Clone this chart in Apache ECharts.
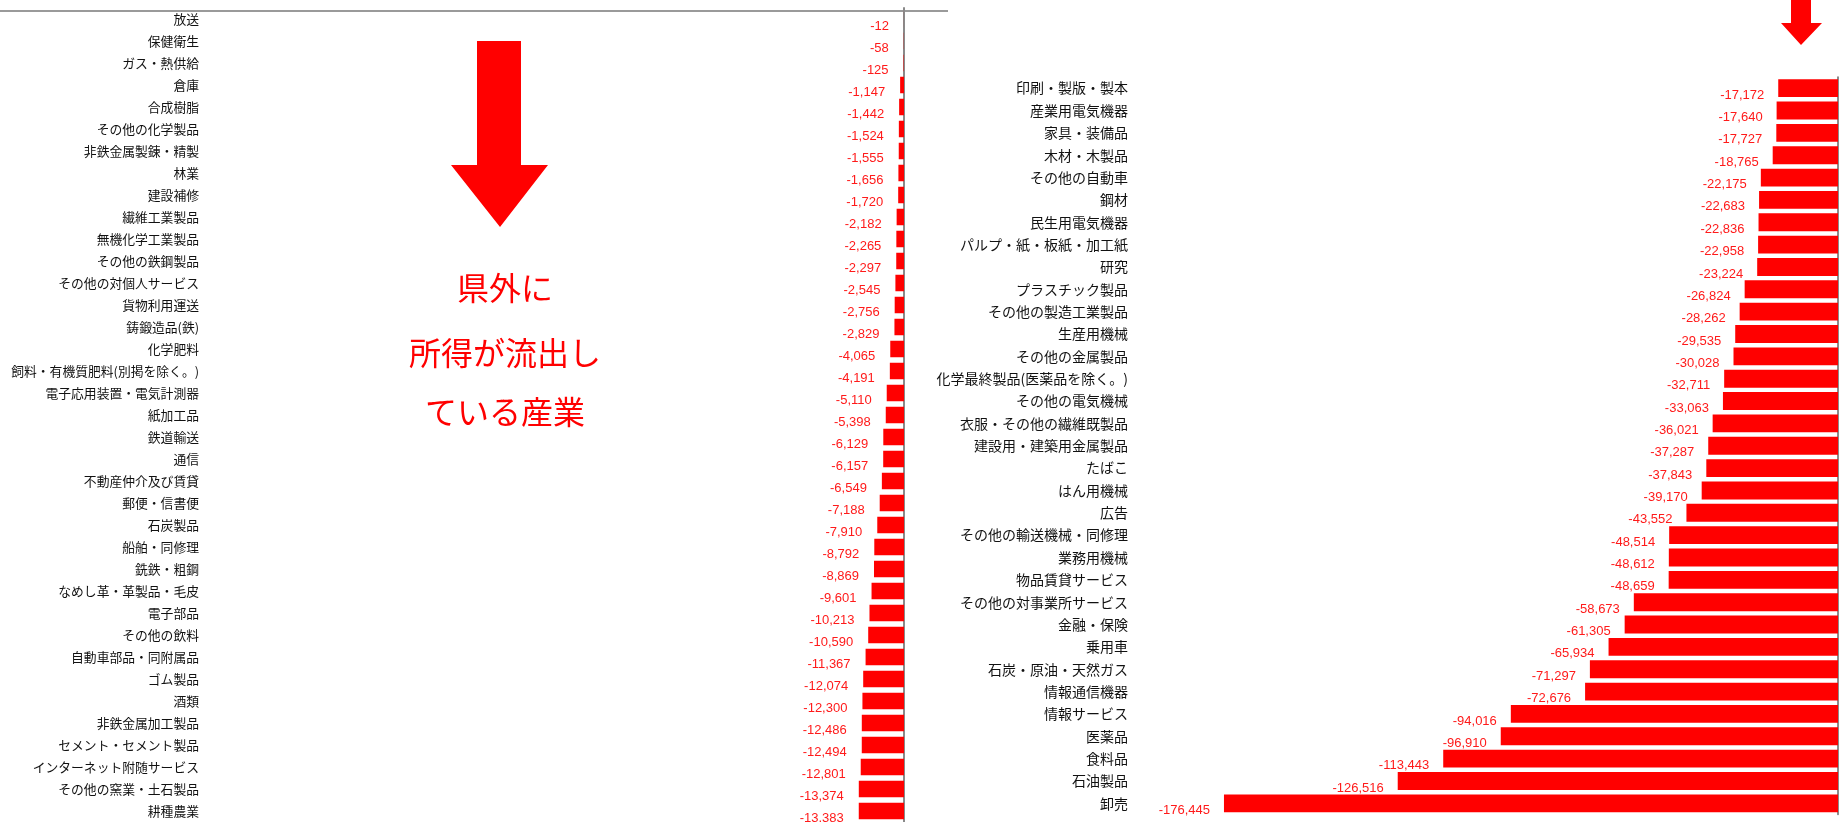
<!DOCTYPE html>
<html>
<head>
<meta charset="utf-8">
<script src="https://cdn.jsdelivr.net/npm/echarts@6/dist/echarts.min.js"></script>
<style>
html,body{margin:0;padding:0;background:#fff;}
#chart{width:1845px;height:822px;}
</style>
</head>
<body>
<div id="chart"></div>
<script>
const leftCategories = ['放送','保健衛生','ガス・熱供給','倉庫','合成樹脂','その他の化学製品','非鉄金属製錬・精製','林業','建設補修','繊維工業製品','無機化学工業製品','その他の鉄鋼製品','その他の対個人サービス','貨物利用運送','鋳鍛造品(鉄)','化学肥料','飼料・有機質肥料(別掲を除く。)','電子応用装置・電気計測器','紙加工品','鉄道輸送','通信','不動産仲介及び賃貸','郵便・信書便','石炭製品','船舶・同修理','銑鉄・粗鋼','なめし革・革製品・毛皮','電子部品','その他の飲料','自動車部品・同附属品','ゴム製品','酒類','非鉄金属加工製品','セメント・セメント製品','インターネット附随サービス','その他の窯業・土石製品','耕種農業'];
const leftValues = [-12,-58,-125,-1147,-1442,-1524,-1555,-1656,-1720,-2182,-2265,-2297,-2545,-2756,-2829,-4065,-4191,-5110,-5398,-6129,-6157,-6549,-7188,-7910,-8792,-8869,-9601,-10213,-10590,-11367,-12074,-12300,-12486,-12494,-12801,-13374,-13383];

const rightCategories = ['印刷・製版・製本','産業用電気機器','家具・装備品','木材・木製品','その他の自動車','鋼材','民生用電気機器','パルプ・紙・板紙・加工紙','研究','プラスチック製品','その他の製造工業製品','生産用機械','その他の金属製品','化学最終製品(医薬品を除く。)','その他の電気機械','衣服・その他の繊維既製品','建設用・建築用金属製品','たばこ','はん用機械','広告','その他の輸送機械・同修理','業務用機械','物品賃貸サービス','その他の対事業所サービス','金融・保険','乗用車','石炭・原油・天然ガス','情報通信機器','情報サービス','医薬品','食料品','石油製品','卸売'];
const rightValues = [-17172,-17640,-17727,-18765,-22175,-22683,-22836,-22958,-23224,-26824,-28262,-29535,-30028,-32711,-33063,-36021,-37287,-37843,-39170,-43552,-48514,-48612,-48659,-58673,-61305,-65934,-71297,-72676,-94016,-96910,-113443,-126516,-176445];

const annotationLines = ['県外に','所得が流出し','ている産業'];

const chart = echarts.init(document.getElementById('chart'), null, {renderer:'canvas'});
const catFont = "'Noto Sans CJK JP', sans-serif";
const numFont = "'Liberation Sans', Arial, sans-serif";
const fmt = p => Number(p.value).toLocaleString('en-US');

function valueAxis(gridIndex){
  return {type:'value', gridIndex, min:-200000, max:0, show:false, splitLine:{show:false}};
}
function catAxis(gridIndex, data, fontSize, margin){
  return {type:'category', gridIndex, data, inverse:true, position:'left',
    axisLine:{show:false, onZero:false}, axisTick:{show:false},
    axisLabel:{color:'#111', fontSize, fontFamily:catFont, margin, padding:[17,0,0,0], interval:0}};
}
function zeroAxis(gridIndex, data, color, width){
  return {type:'category', gridIndex, data, inverse:true, position:'right',
    axisLine:{show:true, onZero:false, lineStyle:{color, width}}, axisTick:{show:false}, axisLabel:{show:false}};
}

const option = {
  animation:false,
  backgroundColor:'#ffffff',
  grid:[
    {left:228, top:8, width:676, height:814},
    {left:1142, top:77, width:696, height:737.5}
  ],
  xAxis:[valueAxis(0), valueAxis(1)],
  yAxis:[
    catAxis(0, leftCategories, 12.8, 29),
    zeroAxis(0, leftCategories, '#8a8a8a', 2),
    catAxis(1, rightCategories, 14, 14),
    zeroAxis(1, rightCategories, '#666', 1.5)
  ],
  series:[
    {type:'bar', xAxisIndex:0, yAxisIndex:0, data:leftValues, barCategoryGap:'25%',
      itemStyle:{color:'#ff0000'},
      label:{show:true, position:'left', distance:15, offset:[0,7], color:'#ff1a1a', fontSize:13, fontFamily:numFont, formatter:fmt}},
    {type:'bar', xAxisIndex:1, yAxisIndex:2, data:rightValues, barCategoryGap:'20%',
      itemStyle:{color:'#ff0000'},
      label:{show:true, position:'left', distance:14, offset:[0,7], color:'#ff1a1a', fontSize:13, fontFamily:numFont, formatter:fmt}}
  ],
  graphic:[
    {type:'line', shape:{x1:0, y1:11, x2:948, y2:11}, style:{stroke:'#9a9a9a', lineWidth:2}},
    {type:'polygon', shape:{points:[[477,41],[521,41],[521,165],[548,165],[500,227],[451,165],[477,165]]}, style:{fill:'#ff0000'}},
    {type:'polygon', shape:{points:[[1791,0],[1811,0],[1811,23],[1822,23],[1801,45],[1781,23],[1791,23]]}, style:{fill:'#ff0000'}},
    {type:'text', x:505, y:288, style:{text:annotationLines[0], fill:'#ff0000', font:"32px 'Noto Sans CJK JP'", textAlign:'center', textVerticalAlign:'middle'}},
    {type:'text', x:505, y:353, style:{text:annotationLines[1], fill:'#ff0000', font:"32px 'Noto Sans CJK JP'", textAlign:'center', textVerticalAlign:'middle'}},
    {type:'text', x:505, y:412, style:{text:annotationLines[2], fill:'#ff0000', font:"32px 'Noto Sans CJK JP'", textAlign:'center', textVerticalAlign:'middle'}}
  ]
};
chart.setOption(option);
</script>
</body>
</html>
